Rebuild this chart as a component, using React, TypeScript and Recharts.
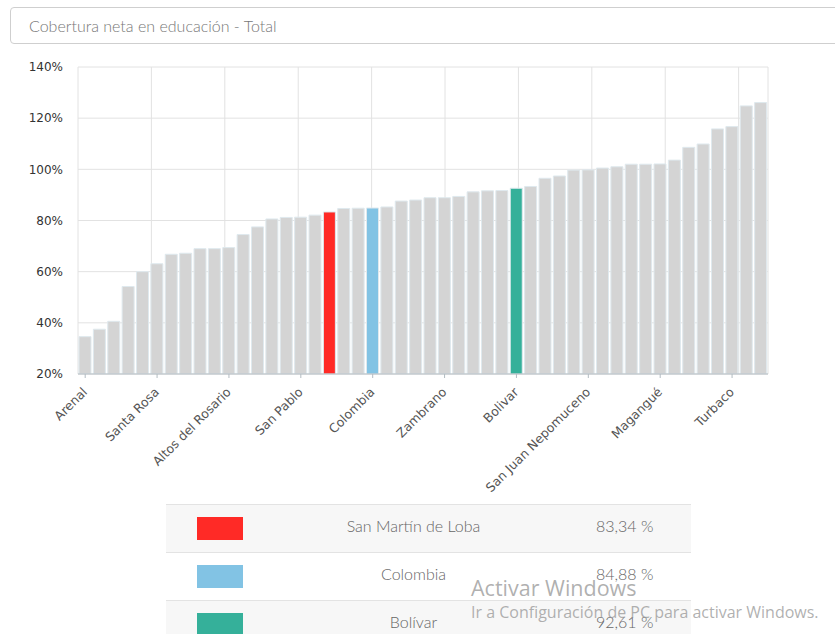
import React from "react";
import { BarChart, Bar, XAxis, YAxis, CartesianGrid, Cell } from "recharts";

const categories: string[] = [
  "Arenal", "Norosí", "Tiquisio", "Montecristo", "Barranco de Loba",
  "Santa Rosa", "Achí", "Pinillos", "Río Viejo", "Cantagallo",
  "Altos del Rosario", "Hatillo de Loba", "El Peñón", "Regidor", "San Jacinto del Cauca",
  "San Pablo", "Simití", "San Martín de Loba", "Margarita", "Morales",
  "Colombia", "Santa Catalina", "San Fernando", "Talaigua Nuevo", "Villanueva",
  "Zambrano", "Arroyohondo", "Soplaviento", "Calamar", "Mahates",
  "Bolivar", "El Guamo", "San Cristóbal", "Córdoba", "Clemencia",
  "San Juan Nepomuceno", "Turbaná", "San Estanislao", "Arjona", "Cicuco",
  "Magangué", "Santa Rosa del Sur", "María la Baja", "San Jacinto", "El Carmen de Bolívar",
  "Turbaco", "Mompós", "Cartagena",
];

const coverage: number[] = [
  34.6, 37.5, 40.6, 54.2, 60.0,
  63.1, 66.8, 67.2, 69.0, 69.0,
  69.4, 74.5, 77.5, 80.6, 81.2,
  81.3, 82.1, 83.34, 84.7, 84.8,
  84.88, 85.3, 87.6, 88.0, 88.9,
  88.9, 89.4, 91.2, 91.6, 91.7,
  92.61, 93.3, 96.5, 97.4, 99.7,
  99.8, 100.5, 101.0, 102.0, 102.0,
  102.1, 103.6, 108.6, 109.9, 115.8,
  116.7, 124.8, 126.1,
];

const yTicks: number[] = [20, 40, 60, 80, 100, 120, 140];
const gridTicks: number[] = [0, 5, 10, 15, 20, 25, 30, 35, 40, 45];

const highlightKeys: string[] = ["San Martín de Loba", "Colombia", "Bolivar"];
const highlightLabels: string[] = ["San Martín de Loba", "Colombia", "Bolívar"];
const highlightColors: string[] = ["#ff2a26", "#82c3e4", "#35b09a"];

const baseColor = "#d4d4d4";

const data = categories.map((name, i) => ({ name, value: coverage[i] }));

const AxisTick = (props: any) => {
  const { x, y, payload } = props;
  return (
    <g transform={`translate(${x},${y + 10})`}>
      <text
        x={0}
        y={0}
        dx={0}
        dy={4}
        textAnchor="end"
        fill="#555"
        fontSize={12.5}
        fontFamily="DejaVu Sans, Verdana, sans-serif"
        transform="rotate(-45)"
      >
        {payload.value}
      </text>
    </g>
  );
};

const fmt = (v: number) => v.toFixed(2).replace(".", ",") + " %";

export default function App() {
  const thin = "Lato, 'Open Sans', sans-serif";
  return (
    <div
      style={{
        position: "absolute",
        left: 0,
        top: 0,
        width: 835,
        height: 634,
        overflow: "hidden",
        background: "#fff",
      }}
    >
      <div
        style={{
          position: "absolute",
          left: 10,
          top: 7,
          width: 840,
          height: 37,
          border: "1px solid #cfcfcf",
          borderRadius: 4,
          boxSizing: "border-box",
          fontFamily: thin,
          fontWeight: 300,
          fontSize: 16,
          color: "#777",
          lineHeight: "35px",
          paddingLeft: 18,
        }}
      >
        Cobertura neta en educación - Total
      </div>

      <div style={{ position: "absolute", left: 0, top: 50 }}>
        <BarChart
          width={800}
          height={450}
          data={data}
          margin={{ top: 17, right: 32, left: 18, bottom: 16 }}
          barCategoryGap={1}
        >
          <XAxis xAxisId="grid" type="number" domain={[0, categories.length]} ticks={gridTicks} hide />
          <CartesianGrid xAxisId="grid" stroke="#e2e2e2" strokeWidth={1} />
          <XAxis
            dataKey="name"
            interval={4}
            tick={<AxisTick />}
            height={110}
            stroke="#b3bcc2"
            tickSize={4}
          />
          <YAxis
            domain={[20, 140]}
            ticks={yTicks}
            allowDataOverflow
            axisLine={false}
            tickLine={false}
            tickSize={0}
            tickMargin={15}
            width={60}
            tickFormatter={(v: number) => `${v}%`}
            tick={{ fill: "#333", fontSize: 12, fontFamily: "DejaVu Sans, Verdana, sans-serif" }}
          />
          <Bar dataKey="value" isAnimationActive={false} stroke="#dfe9ee" strokeWidth={1}>
            {data.map((d, i) => {
              const h = highlightKeys.indexOf(d.name);
              return <Cell key={i} fill={h >= 0 ? highlightColors[h] : baseColor} />;
            })}
          </Bar>
        </BarChart>
      </div>

      <table
        style={{
          position: "absolute",
          left: 166,
          top: 504,
          width: 525,
          borderCollapse: "collapse",
          fontFamily: thin,
          fontWeight: 300,
          color: "#666",
          fontSize: 16,
        }}
      >
        <tbody>
          {highlightKeys.map((k, i) => {
            const idx = categories.indexOf(k);
            return (
              <tr
                key={k}
                style={{
                  height: 48,
                  background: i % 2 === 0 ? "#f7f7f7" : "#fff",
                  borderTop: "1px solid #e3e3e3",
                }}
              >
                <td style={{ width: 110, padding: 0 }}>
                  <div
                    style={{
                      marginLeft: 31,
                      width: 46,
                      height: 23,
                      background: highlightColors[i],
                    }}
                  />
                </td>
                <td style={{ textAlign: "center", padding: 0, paddingBottom: 6 }}>{highlightLabels[i]}</td>
                <td style={{ width: 140, textAlign: "left", padding: 0, paddingBottom: 6 }}>
                  <span style={{ marginLeft: 45 }}>{fmt(coverage[idx])}</span>
                </td>
              </tr>
            );
          })}
        </tbody>
      </table>

      <div
        style={{
          position: "absolute",
          left: 471,
          top: 573,
          fontFamily: "'Open Sans', 'Noto Sans', sans-serif",
          color: "rgba(150,150,150,0.75)",
          fontSize: 21.5,
          whiteSpace: "nowrap",
        }}
      >
        Activar Windows
      </div>
      <div
        style={{
          position: "absolute",
          left: 471,
          top: 601,
          fontFamily: "'Open Sans', 'Noto Sans', sans-serif",
          color: "rgba(150,150,150,0.75)",
          fontSize: 16,
          whiteSpace: "nowrap",
        }}
      >
        Ir a Configuración de PC para activar Windows.
      </div>
    </div>
  );
}
